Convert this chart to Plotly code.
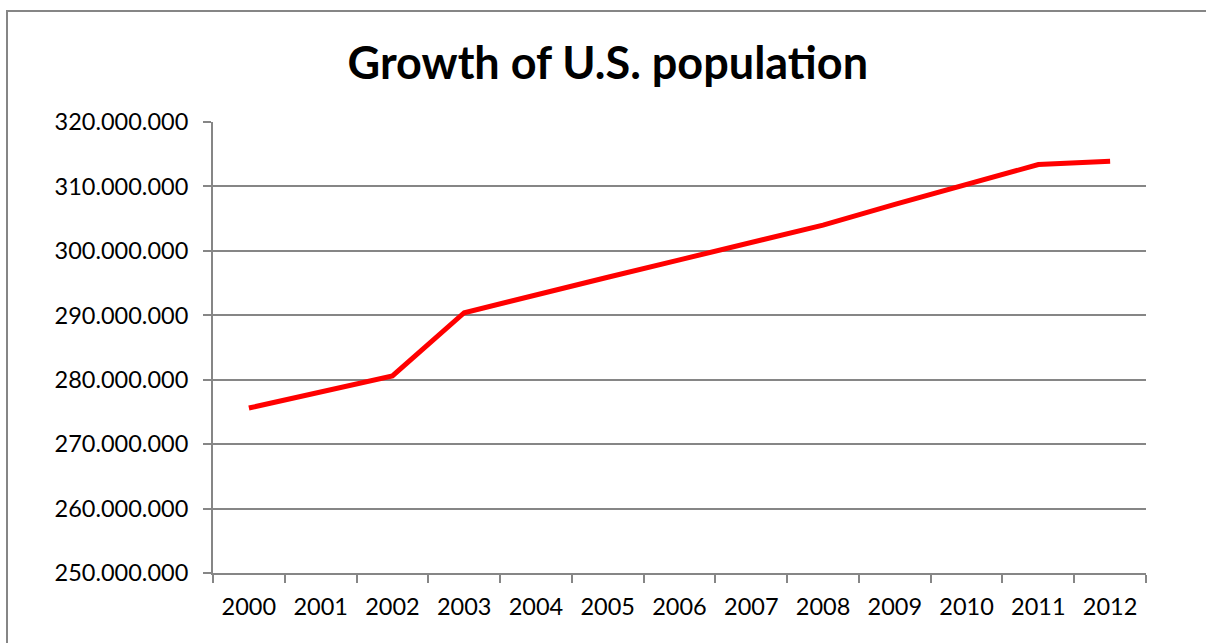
import plotly.graph_objects as go

# U.S. population by year
years = ["2000", "2001", "2002", "2003", "2004", "2005", "2006",
         "2007", "2008", "2009", "2010", "2011", "2012"]
population = [275600000, 278100000, 280600000, 290400000, 293200000,
              295900000, 298600000, 301300000, 304000000, 307200000,
              310300000, 313400000, 313900000]
y_ticks = [250000000, 260000000, 270000000, 280000000, 290000000,
           300000000, 310000000, 320000000]

W, H = 1206, 643
L, R, T, B = 213, 60, 122, 70
pw, ph = W - L - R, H - T - B

fig = go.Figure(go.Scatter(
    x=years, y=population, mode="lines",
    line=dict(color="#FF0000", width=5),
    hoverinfo="x+y",
))

axis_col = "#868686"
font_main = "Lato, Carlito, Calibri, sans-serif"

fig.update_layout(
    width=W, height=H,
    margin=dict(l=L, r=R, t=T, b=B),
    paper_bgcolor="white", plot_bgcolor="white",
    separators=",.",
    showlegend=False,
    font=dict(family=font_main, color="black", size=23.5),
    title=dict(text="<b>Growth of U.S. population</b>",
               x=0.504, xanchor="center", y=1 - 63 / H, yanchor="middle",
               font=dict(size=45, family=font_main, color="black")),
    xaxis=dict(type="category", tickson="boundaries",
               range=[-0.5, len(years) - 0.5],
               showline=True, linecolor=axis_col, linewidth=2,
               ticks="outside", ticklen=8, tickwidth=2, tickcolor=axis_col,
               showgrid=False, tickfont=dict(size=23.5), ticklabelstandoff=12),
    yaxis=dict(range=[250000000, 320000000], tickvals=y_ticks,
               tickformat=",d",
               showline=True, linecolor=axis_col, linewidth=2,
               ticks="outside", ticklen=8, tickwidth=2, tickcolor=axis_col,
               showgrid=True, gridcolor=axis_col, gridwidth=2,
               zeroline=False, tickfont=dict(size=23.5), ticklabelstandoff=10),
    shapes=[dict(type="rect", xref="paper", yref="paper",
                 x0=(7 - L) / pw, x1=(W + 10 - L) / pw,
                 y0=-(H + 10 - T - ph) / ph, y1=(H - 11 - B) / ph,
                 line=dict(color=axis_col, width=2), fillcolor="rgba(0,0,0,0)",
                 layer="below")],
)

fig.write_html("out.html")
